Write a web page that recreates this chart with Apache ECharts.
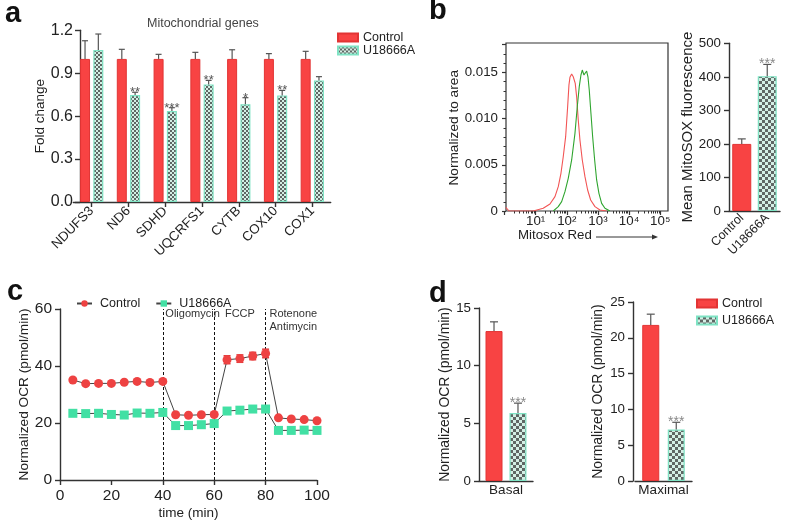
<!DOCTYPE html>
<html><head><meta charset="utf-8">
<script src="https://cdn.jsdelivr.net/npm/echarts@6/dist/echarts.min.js"></script>
<style>html,body{margin:0;padding:0;background:#fff}#c{width:791px;height:522px}</style>
</head><body><div id="c"></div><script>
// ---------- data ----------
const genes = ['NDUFS3','ND6','SDHD','UQCRFS1','CYTB','COX10','COX1'];
const geneControl = [1,1,1,1,1,1,1];
const geneControlErr = [0.127,0.067,0.032,0.046,0.064,0.037,0.053];
const geneTreated = [1.062,0.748,0.636,0.822,0.683,0.745,0.85];
const geneTreatedErr = [0.112,0.019,0.023,0.028,0.046,0.035,0.026];
const geneStars = ['','**','***','**','*','**',''];

const histRedX = [1.1,1.4,8.4,17.5,28.8,41.7,53.2,64.9,76.9,91.8,106.4,117.2,126.2,143.2,161.1,169.8,186.6,207.0,233.3,264.2,314.1,382.8,466.7,583.4,801.7,1159,1901];
const histRedY = [0.0004,0,0,0.0003,0.00076,0.00155,0.00263,0.00408,0.00587,0.00804,0.01128,0.01363,0.01446,0.01482,0.01452,0.01471,0.01381,0.01236,0.00984,0.00768,0.00552,0.00371,0.00227,0.00119,0.00047,0.0001,0];
const histGreenX = [36.8,53.2,68.4,87.3,111.4,143.2,182.8,216.8,251.2,284.4,314.1,355.6,382.8,433.5,477.5,526.0,595.7,676.1,783.4,907.8,1076,1315,1679,2427];
const histGreenY = [0,0.00047,0.00101,0.00209,0.00353,0.00552,0.0084,0.01128,0.01345,0.01471,0.01525,0.01471,0.01489,0.01514,0.01452,0.01309,0.01057,0.00804,0.00552,0.00336,0.00191,0.00083,0.0003,0];

const mitoGroups = ['Control','U18666A'];
const mitoValues = [200,402];
const mitoErr = [15,35];
const mitoStars = ['','***'];

const ocrTime = [5,10,15,20,25,30,35,40,45,50,55,60,65,70,75,80,85,90,95,100];
const ocrControl = [35.1,33.8,33.9,33.9,34.3,34.6,34.2,34.6,22.9,22.7,22.9,23.0,42.2,42.6,43.5,44.4,21.8,21.4,21.2,20.8];
const ocrControlErr = [0.5,0.4,0.4,0.4,0.4,0.4,0.4,0.5,0.6,0.4,0.4,0.4,1.4,1.3,1.3,1.5,0.5,0.4,0.4,0.4];
const ocrTreated = [23.4,23.3,23.4,23.0,22.8,23.5,23.4,23.7,19.1,19.1,19.4,19.8,24.2,24.5,24.9,24.9,17.4,17.4,17.5,17.4];
const ocrTreatedErr = [0.4,0.4,0.4,0.4,0.4,0.4,0.4,0.4,0.4,0.4,0.4,0.4,0.5,0.5,0.5,0.5,0.4,0.4,0.4,0.4];
const injectionTimes = [40,60,80];
const injectionLabels = ['Oligomycin','FCCP','Rotenone\nAntimycin'];
const injectionLabelX = [41,70,81.5];
const injectionLabelAlign = ['left','center','left'];

const basalCats = ['Basal'];
const basalControl = [13.0], basalControlErr = [0.8];
const basalTreated = [5.9], basalTreatedErr = [0.85];
const maxCats = ['Maximal'];
const maxControl = [21.8], maxControlErr = [1.5];
const maxTreated = [7.2], maxTreatedErr = [1.0];

// ---------- style ----------
const FONT = '"Liberation Sans", Arial, Helvetica, sans-serif';
const RED = '#f84343', REDB = '#e23434', AQUA = '#7fe3c4';
const TXT = '#222', AX = '#333';
const SUP = ['\u2070','\u00b9','\u00b2','\u00b3','\u2074','\u2075'];
function checker(sz){
  const c=document.createElement('canvas'); c.width=c.height=sz*2;
  const g=c.getContext('2d');
  g.fillStyle='#d4efe5'; g.fillRect(0,0,sz*2,sz*2);
  g.fillStyle='#5f6764'; g.fillRect(0,0,sz,sz); g.fillRect(sz,sz,sz,sz);
  return {image:c, repeat:'repeat'};
}
const patSmall = checker(2), patBig = checker(3);
const redStyle = {color:RED, borderColor:REDB, borderWidth:1};
const grnStyleS = {color:patSmall, borderColor:AQUA, borderWidth:1.2};
const grnStyleB = {color:patBig, borderColor:AQUA, borderWidth:1.2};

const axLine = {show:true, lineStyle:{color:AX, width:1.4}};
const axTick = {show:true, length:5, lineStyle:{color:AX, width:1.4}};
function lab(size, margin, extra){ return Object.assign({fontSize:size, color:TXT, fontFamily:FONT, margin}, extra||{}); }
function valAxis(gi, min, max, interval, name, nameGap, labSize, nameSize, extra){
  return Object.assign({
    type:'value', gridIndex:gi, min, max, interval,
    axisLine:axLine, axisTick:axTick, splitLine:{show:false},
    axisLabel:lab(labSize, 8),
    name, nameLocation:'middle', nameGap,
    nameTextStyle:{fontSize:nameSize, color:TXT, fontFamily:FONT}
  }, extra||{});
}

function errBars(gi, xs, vals, errs, opt){
  return {
    type:'custom', xAxisIndex:gi, yAxisIndex:gi, z:5, silent:true,
    data: xs.map((x,i)=>[x, vals[i], errs[i], i]),
    renderItem(params, api){
      const x=api.value(0), v=api.value(1), e=api.value(2), i=api.value(3);
      const off = opt.n>1 ? (opt.idx-(opt.n-1)/2)*opt.barW*(1+opt.gap) : 0;
      const p0 = api.coord([x, opt.two ? v-e : v]);
      const p1 = api.coord([x, v+e]);
      const cx = p0[0]+off;
      const st = {stroke:opt.color, lineWidth:opt.lw||1.2};
      const ch = [
        {type:'line', shape:{x1:cx,y1:p0[1],x2:cx,y2:p1[1]}, style:st},
        {type:'line', shape:{x1:cx-opt.cap/2,y1:p1[1],x2:cx+opt.cap/2,y2:p1[1]}, style:st}
      ];
      if(opt.two) ch.push({type:'line', shape:{x1:cx-opt.cap/2,y1:p0[1],x2:cx+opt.cap/2,y2:p0[1]}, style:st});
      if(opt.stars && opt.stars[i]) ch.push({type:'text', style:{text:opt.stars[i], x:cx, y:p1[1]+opt.starDy,
        align:'center', verticalAlign:'bottom', fontSize:opt.starSize, fill:opt.starColor, fontFamily:FONT}});
      return {type:'group', children:ch};
    }
  };
}

const legendText = {fontSize:12.5, color:TXT, fontFamily:FONT};

const option = {
  animation:false,
  backgroundColor:'#fff',
  textStyle:{fontFamily:FONT},
  grid:[
    {left:73.3, top:30.3, width:257.4, height:171.7},   // 0 a
    {left:506, top:43, width:162, height:168, show:true, borderColor:AX, borderWidth:1.2, backgroundColor:'transparent'}, // 1 box
    {left:504.5, top:44.6, width:155.75, height:166.4}, // 2 hist axes
    {left:729, top:43.3, width:51, height:167.7},       // 3 b bars
    {left:60, top:309, width:257, height:171},          // 4 c
    {left:479, top:308, width:54, height:173},          // 5 basal
    {left:635, top:302, width:57, height:179}           // 6 maximal
  ],
  xAxis:[
    {type:'category', gridIndex:0, data:genes, axisLine:axLine, axisTick:Object.assign({alignWithLabel:true},axTick),
     axisLabel:lab(13.3, 7, {rotate:45, interval:0})},
    {type:'value', gridIndex:1, show:false, min:0, max:1},
    {type:'log', gridIndex:2, min:1, max:100000, logBase:10, axisLine:{show:false},
     axisTick:{show:true, length:4, lineStyle:{color:AX,width:1.2}},
     minorTick:{show:true, splitNumber:9, length:2.5, lineStyle:{color:AX,width:1}},
     splitLine:{show:false},
     axisLabel:lab(13.3, 4, {formatter:v=>{const e=Math.round(Math.log10(v)); return e===0?'':'10'+SUP[e];}})},
    {type:'category', gridIndex:3, data:mitoGroups, axisLine:axLine, axisTick:{show:false},
     axisLabel:lab(12.5, 5, {rotate:45, interval:0})},
    {type:'value', gridIndex:4, min:0, max:100, interval:20, axisLine:axLine, axisTick:axTick, splitLine:{show:false},
     axisLabel:lab(15.5, 8),
     name:'time (min)', nameLocation:'middle', nameGap:26, nameTextStyle:{fontSize:13.5, color:TXT, fontFamily:FONT}},
    {type:'category', gridIndex:5, data:basalCats, axisLine:axLine, axisTick:{show:false},
     axisLabel:lab(13.5, 2)},
    {type:'category', gridIndex:6, data:maxCats, axisLine:axLine, axisTick:{show:false},
     axisLabel:lab(13.5, 2)}
  ],
  yAxis:[
    valAxis(0,0,1.2,0.3,'Fold change',32,16,13.5,{offset:-6.7, axisLabel:lab(16,7,{formatter:v=>v.toFixed(1)})}),
    {type:'value', gridIndex:1, show:false, min:0, max:1},
    valAxis(2,0,0.018,0.005,'Normalized to area',45,13.3,13.7,{offset:-1.5, axisLine:{show:false},
      axisTick:{show:true, length:4, lineStyle:{color:AX,width:1.2}},
      minorTick:{show:true, splitNumber:5, length:2.5, lineStyle:{color:AX,width:1}},
      axisLabel:lab(13.3,8,{showMaxLabel:false, formatter:v=>v===0?'0':v.toFixed(3)})}),
    valAxis(3,0,500,100,'Mean MitoSOX fluorescence',28,13.3,15),
    valAxis(4,0,60,20,'Normalized OCR (pmol/min)',24,15.5,13.7),
    valAxis(5,0,15,5,'Normalized OCR (pmol/min)',22,13.3,13.9),
    valAxis(6,0,25,5,'Normalized OCR (pmol/min)',28,13.3,13.9,{offset:2})
  ],
  legend:[
    {data:['a:Control','a:U18666A'], left:332, top:26, orient:'vertical', icon:'rect', itemWidth:20, itemHeight:8, itemGap:0,
     selectedMode:false, formatter:n=>n.split(':')[1], textStyle:Object.assign({lineHeight:12},legendText)},
    {data:['c:Control','c:U18666A'], left:71, top:292, orient:'horizontal', itemWidth:15, itemHeight:8, itemGap:15,
     selectedMode:false, formatter:n=>n.split(':')[1], textStyle:Object.assign({padding:[0,0,0,3]},legendText)},
    {data:['d:Control','d:U18666A'], left:691, top:291, orient:'vertical', icon:'rect', itemWidth:20, itemHeight:8, itemGap:2,
     selectedMode:false, formatter:n=>n.split(':')[1], textStyle:Object.assign({lineHeight:15},legendText)}
  ],
  series:[
    // panel a
    {type:'bar', name:'a:Control', xAxisIndex:0, yAxisIndex:0, data:geneControl, barWidth:10, barGap:'33%', itemStyle:redStyle},
    {type:'bar', name:'a:U18666A', xAxisIndex:0, yAxisIndex:0, data:geneTreated, barWidth:10, barGap:'33%', itemStyle:grnStyleS},
    errBars(0, genes, geneControl, geneControlErr, {n:2, idx:0, barW:10, gap:0.33, cap:6, color:'#555'}),
    errBars(0, genes, geneTreated, geneTreatedErr, {n:2, idx:1, barW:10, gap:0.33, cap:6, color:'#555',
      stars:geneStars, starDy:7, starSize:13, starColor:'#555'}),
    // panel b histogram
    {type:'line', name:'hist red', xAxisIndex:2, yAxisIndex:2, showSymbol:false, smooth:false,
     data:histRedX.map((x,i)=>[x,histRedY[i]]), lineStyle:{color:'#f25454', width:1.1}, itemStyle:{color:'#f25454'}},
    {type:'line', name:'hist green', xAxisIndex:2, yAxisIndex:2, showSymbol:false, smooth:false,
     data:histGreenX.map((x,i)=>[x,histGreenY[i]]), lineStyle:{color:'#2fa52f', width:1.1}, itemStyle:{color:'#2fa52f'}},
    // panel b bars
    {type:'bar', name:'mito', xAxisIndex:3, yAxisIndex:3, barWidth:19,
     data:mitoValues.map((v,i)=>({value:v, itemStyle:i===0?redStyle:grnStyleB}))},
    errBars(3, mitoGroups, mitoValues, mitoErr, {n:1, cap:8, color:'#555', stars:mitoStars, starDy:7, starSize:14, starColor:'#888'}),
    // panel c
    errBars(4, ocrTime, ocrControl, ocrControlErr, {n:1, two:true, cap:7, color:'#e03a3a', lw:1.5}),
    errBars(4, ocrTime, ocrTreated, ocrTreatedErr, {n:1, two:true, cap:7, color:'#3ad89a', lw:1.5}),
    {type:'line', name:'c:Control', xAxisIndex:4, yAxisIndex:4, data:ocrTime.map((t,i)=>[t,ocrControl[i]]),
     symbol:'circle', symbolSize:9, z:6, lineStyle:{color:'#444', width:1}, itemStyle:{color:'#ee4242'},
     markLine:{silent:true, symbol:'none', label:{show:false}, lineStyle:{color:'#111', type:[3,2], width:1},
       data:injectionTimes.map(t=>({xAxis:t}))}},
    {type:'line', name:'c:U18666A', xAxisIndex:4, yAxisIndex:4, data:ocrTime.map((t,i)=>[t,ocrTreated[i]]),
     symbol:'rect', symbolSize:9, z:6, lineStyle:{color:'#444', width:1}, itemStyle:{color:'#42e0a4'}},
    {type:'custom', xAxisIndex:4, yAxisIndex:4, silent:true, z:7,
     data:injectionLabelX.map((x,i)=>[x,58.6,i]),
     renderItem(params, api){
       const i=api.value(2), p=api.coord([api.value(0),api.value(1)]);
       return {type:'text', style:{text:injectionLabels[i], x:p[0], y:p[1]-6, align:injectionLabelAlign[i], verticalAlign:'top',
         fontSize:11, lineHeight:13, fill:'#333', fontFamily:FONT}};
     }},
    // panel d
    {type:'bar', name:'d:Control', xAxisIndex:5, yAxisIndex:5, data:basalControl, barWidth:17, barGap:'41%', itemStyle:redStyle},
    {type:'bar', name:'d:U18666A', xAxisIndex:5, yAxisIndex:5, data:basalTreated, barWidth:17, barGap:'41%', itemStyle:grnStyleB},
    errBars(5, basalCats, basalControl, basalControlErr, {n:2, idx:0, barW:17, gap:0.41, cap:8, color:'#555'}),
    errBars(5, basalCats, basalTreated, basalTreatedErr, {n:2, idx:1, barW:17, gap:0.41, cap:8, color:'#555', stars:['***'], starDy:7, starSize:14, starColor:'#888'}),
    {type:'bar', name:'d2:Control', xAxisIndex:6, yAxisIndex:6, data:maxControl, barWidth:17, barGap:'50%', itemStyle:redStyle},
    {type:'bar', name:'d2:U18666A', xAxisIndex:6, yAxisIndex:6, data:maxTreated, barWidth:17, barGap:'50%', itemStyle:grnStyleB},
    errBars(6, maxCats, maxControl, maxControlErr, {n:2, idx:0, barW:17, gap:0.5, cap:8, color:'#555'}),
    errBars(6, maxCats, maxTreated, maxTreatedErr, {n:2, idx:1, barW:17, gap:0.5, cap:8, color:'#555', stars:['***'], starDy:7, starSize:14, starColor:'#888'})
  ],
  graphic:[
    {type:'text', left:5, top:-1, style:{text:'a', fontSize:29, fontWeight:'bold', fill:'#111', fontFamily:FONT}},
    {type:'text', left:429, top:-4, style:{text:'b', fontSize:29, fontWeight:'bold', fill:'#111', fontFamily:FONT}},
    {type:'text', left:7, top:277, style:{text:'c', fontSize:29, fontWeight:'bold', fill:'#111', fontFamily:FONT}},
    {type:'text', left:429, top:279, style:{text:'d', fontSize:29, fontWeight:'bold', fill:'#111', fontFamily:FONT}},
    {type:'text', left:147, top:17, style:{text:'Mitochondrial genes', fontSize:12.5, fill:'#444', fontFamily:FONT}},
    {type:'text', left:518, top:229, style:{text:'Mitosox Red', fontSize:13.3, fill:TXT, fontFamily:FONT}},
    {type:'line', shape:{x1:596,y1:237,x2:654,y2:237}, style:{stroke:'#333', lineWidth:1}},
    {type:'polygon', shape:{points:[[658,237],[652,234.5],[652,239.5]]}, style:{fill:'#333'}}
  ]
};
const chart = echarts.init(document.getElementById('c'), null, {renderer:'canvas'});
chart.setOption(option);
</script></body></html>
